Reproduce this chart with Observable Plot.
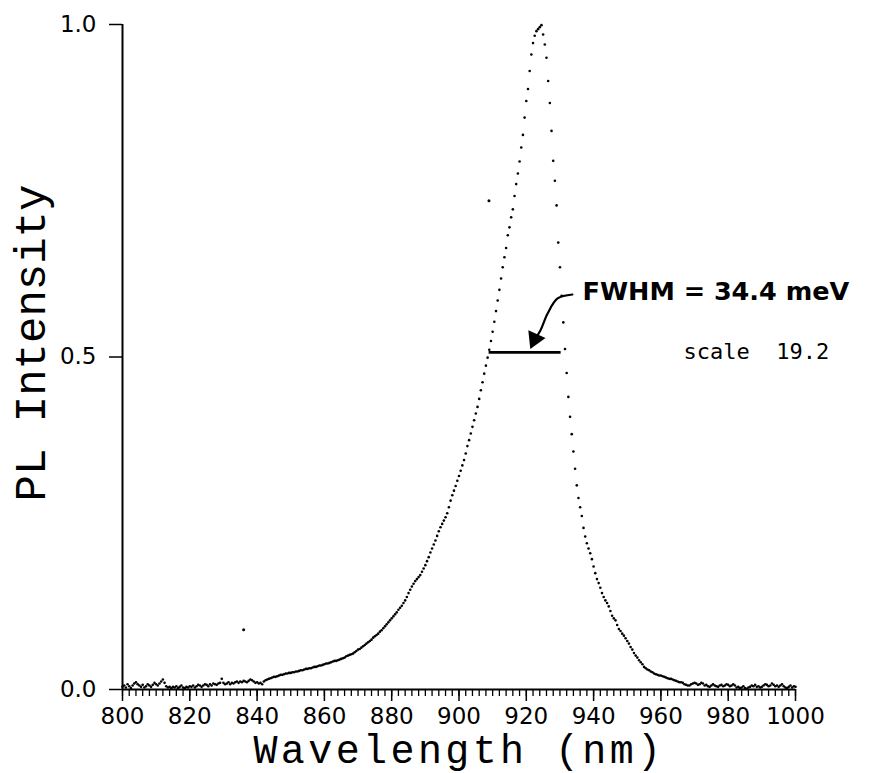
<!DOCTYPE html>
<html><head><meta charset="utf-8">
<script src="https://cdn.jsdelivr.net/npm/d3@7"></script>
<script src="https://cdn.jsdelivr.net/npm/@observablehq/plot@0.6"></script>
<style>body{margin:0;background:#fff}</style>
</head><body><div id="chart"></div>
<script>
// Photoluminescence spectrum, sampled every 0.5 nm from 800 nm to 1000 nm
const startWavelength = 800;
const stepWavelength = 0.5;
const intensity = [
  .004,.006,.003,.008,.005,.002,.006,.009,.011,.008,.006,.004,.007,.003,.005,.008,.006,.004,.007,.010, // 800
  .008,.006,.009,.012,.015,.010,.005,.003,.004,.002,.004,.003,.005,.002,.004,.006,.003,.002,.004,.003, // 810
  .005,.004,.006,.003,.005,.007,.006,.004,.006,.008,.007,.005,.008,.006,.009,.008,.007,.009,.010,.016, // 820
  .010,.008,.009,.011,.008,.010,.009,.011,.012,.010,.012,.011,.013,.012,.011,.013,.015,.014,.012,.010, // 830
  .011,.009,.010,.008,.012,.014,.015,.016,.017,.018,.019,.019,.020,.021,.022,.022,.023,.024,.024,.025, // 840
  .025,.026,.026,.027,.027,.028,.029,.029,.030,.031,.031,.032,.032,.033,.034,.034,.035,.036,.036,.037, // 850
  .038,.039,.039,.040,.041,.042,.043,.043,.044,.045,.046,.047,.048,.050,.051,.052,.053,.054,.056,.058, // 860
  .060,.061,.063,.065,.067,.069,.071,.073,.075,.078,.080,.082,.084,.087,.089,.092,.095,.098,.101,.104, // 870
  .107,.110,.113,.116,.120,.123,.126,.130,.134,.139,.145,.150,.155,.159,.163,.166,.169,.172,.177,.182, // 880
  .187,.193,.199,.206,.212,.218,.224,.231,.238,.244,.249,.254,.259,.265,.274,.284,.292,.299,.306,.314, // 890
  .321,.329,.337,.345,.355,.366,.375,.385,.395,.405,.415,.425,.437,.450,.462,.475,.487,.499,.511,.524, // 900
  .538,.553,.569,.585,.601,.618,.635,.650,.664,.683,.695,.710,.722,.742,.760,.776,.794,.815,.834,.860, // 910
  .885,.903,.930,.955,.972,.983,.990,.993,.996,.999,.985,.970,.950,.915,.882,.840,.795,.765,.728,.672, // 920
  .635,.592,.552,.512,.476,.440,.410,.384,.358,.332,.307,.288,.274,.261,.243,.230,.220,.212,.205,.196, // 930
  .185,.175,.166,.160,.153,.145,.139,.134,.130,.125,.118,.111,.107,.104,.097,.091,.088,.084,.081,.077, // 940
  .073,.069,.064,.060,.055,.051,.048,.044,.041,.038,.034,.032,.030,.029,.027,.026,.024,.023,.022,.021, // 950
  .021,.020,.019,.018,.017,.016,.016,.015,.014,.013,.012,.011,.011,.010,.008,.007,.006,.006,.008,.009, // 960
  .010,.009,.007,.008,.010,.009,.006,.007,.005,.004,.006,.008,.006,.005,.004,.006,.007,.005,.006,.008, // 970
  .007,.005,.006,.008,.006,.003,.004,.002,.003,.005,.002,.001,.003,.004,.006,.005,.007,.004,.005,.003, // 980
  .004,.006,.008,.007,.005,.006,.009,.007,.005,.006,.004,.006,.008,.005,.003,.002,.004,.006,.003,.005,.004 // 990-1000
];
// stray points
const outlierWavelength = [836.0, 908.9];
const outlierIntensity = [0.090, 0.735];

// axis ticks
const xMajorTicks = [800, 820, 840, 860, 880, 900, 920, 940, 960, 980, 1000];
const xMinorTicks = d3.range(800, 1001, 2);
const yTicks = [0.0, 0.5, 1.0];

// annotations
const fwhmText = "FWHM = 34.4 meV";
const scaleText = "scale  19.2";
const xTitle = "Wavelength (nm)";
const yTitle = "PL Intensity";
const fwhmEdges = [908.8, 930.2];   // nm
const fwhmLevel = 0.507;
const arrowWavelength = [933.7, 929.3, 926.3, 924.2, 922.5];
const arrowIntensity  = [0.594, 0.588, 0.565, 0.540, 0.527];

const spectrum = intensity.map((v, i) => ({wavelength: startWavelength + i * stepWavelength, intensity: v}));
const outliers = outlierWavelength.map((w, i) => ({wavelength: w, intensity: outlierIntensity[i]}));
const arrowPts = arrowWavelength.map((w, i) => ({wavelength: w, intensity: arrowIntensity[i]}));
const arrowHead = [arrowPts[arrowPts.length - 1]];

const chart = Plot.plot({
  width: 883, height: 773,
  marginLeft: 122, marginRight: 88, marginTop: 24, marginBottom: 84,
  x: {domain: [800, 1000], label: null},
  y: {domain: [0, 1], label: null},
  style: {fontFamily: "DejaVu Sans", background: "white", color: "black"},
  marks: [
    Plot.axisX({ticks: xMinorTicks, tickSize: 7, tickFormat: () => "", strokeWidth: 1.3, label: null}),
    Plot.axisX({ticks: xMajorTicks, tickSize: 12, tickPadding: 6, fontSize: 23, strokeWidth: 1.5, tickFormat: d => String(d), label: null}),
    Plot.axisY({ticks: yTicks, tickSize: 13, tickPadding: 13, fontSize: 23, strokeWidth: 1.5, tickFormat: d3.format(".1f"), label: null}),
    Plot.ruleY([0], {strokeWidth: 2}),
    Plot.ruleX([800], {strokeWidth: 2}),
    Plot.dot(spectrum, {x: "wavelength", y: "intensity", r: 1.3, fill: "black", stroke: null}),
    Plot.dot(outliers, {x: "wavelength", y: "intensity", r: 1.5, fill: "black", stroke: null}),
    Plot.link([fwhmLevel], {x1: fwhmEdges[0], x2: fwhmEdges[1], y1: d => d, y2: d => d, strokeWidth: 2.6, stroke: "black"}),
    Plot.line(arrowPts, {x: "wavelength", y: "intensity", curve: "catmull-rom", strokeWidth: 2.2, stroke: "black"}),
    Plot.dot(arrowHead, {x: "wavelength", y: "intensity", symbol: "triangle", r: 7, rotate: 204, fill: "black", stroke: null}),
    Plot.text([fwhmText], {x: 936.7, y: 0.598, text: d => d, textAnchor: "start", fontSize: 25.5, fontWeight: "bold", fontFamily: "DejaVu Sans"}),
    Plot.text([scaleText], {x: 966.7, y: 0.507, text: d => d, textAnchor: "start", fontSize: 22, fontFamily: "DejaVu Sans Mono"}),
    Plot.text([xTitle], {frameAnchor: "bottom", lineAnchor: "bottom", textAnchor: "middle", text: d => d, dy: 73, fontSize: 40, fontFamily: "Liberation Mono"}),
    Plot.text([yTitle], {frameAnchor: "left", textAnchor: "middle", lineAnchor: "middle", text: d => d, dx: -92, dy: -14, rotate: -90, fontSize: 44, fontFamily: "Liberation Mono"})
  ]
});
// widen the x-axis title spacing like the plotter lettering
d3.select(chart).selectAll("text").filter(function () { return this.textContent === xTitle; })
  .style("letter-spacing", "3.4px");
document.getElementById("chart").appendChild(chart);
</script></body></html>
